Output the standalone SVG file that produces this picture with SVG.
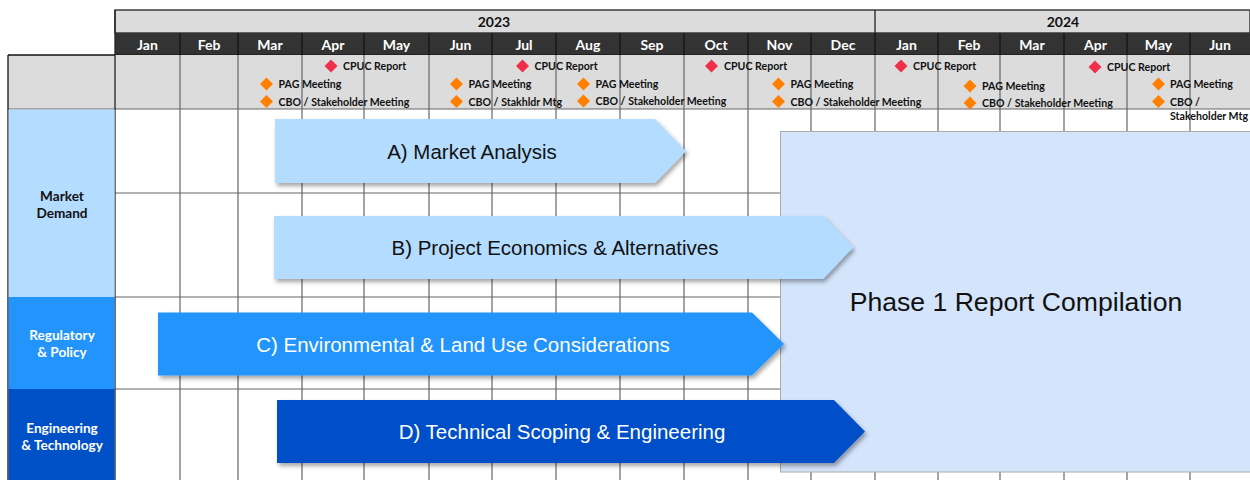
<svg xmlns="http://www.w3.org/2000/svg" width="1250" height="480" viewBox="0 0 1250 480">
<defs>
<style>
.hdr{font-family:Lato,"Liberation Sans",sans-serif;font-weight:700}
.mon{fill:#fff;font-size:14px;text-anchor:middle}
.yr{fill:#111;font-size:14px;text-anchor:middle}
.ms{fill:#111;font-size:10.6px}
.cat{font-family:Lato,"Liberation Sans",sans-serif;font-weight:700;font-size:13.6px;text-anchor:middle}
.bar{font-family:"Liberation Sans",Arial,sans-serif;font-size:20.5px;text-anchor:middle}
.grid line{stroke:#666;stroke-width:1.2}
.mgrid line{stroke:#111;stroke-width:1.2}
.red{fill:#f0304a}
.org{fill:#ff8000}
</style>
<filter id="sh" x="-5%" y="-20%" width="115%" height="150%">
<feDropShadow dx="2" dy="3" stdDeviation="2" flood-color="#000" flood-opacity="0.35"/>
</filter>
<path id="dm" d="M0,-6.5 L6.5,0 L0,6.5 L-6.5,0Z"/>
</defs>
<rect width="1250" height="480" fill="#fff"/>

<g id="header">
<rect x="115" y="10" width="1135" height="23" fill="#dcdcdc" stroke="#222" stroke-width="1.3"/>
<line x1="875" y1="10" x2="875" y2="33" stroke="#222" stroke-width="1.3"/>
<text class="hdr yr" x="494" y="27">2023</text>
<text class="hdr yr" x="1063" y="27">2024</text>
<rect x="115" y="33" width="1135" height="22" fill="#333"/>
<g class="mgrid">
<line x1="180" y1="33" x2="180" y2="55"/><line x1="238" y1="33" x2="238" y2="55"/><line x1="302" y1="33" x2="302" y2="55"/><line x1="364" y1="33" x2="364" y2="55"/><line x1="429" y1="33" x2="429" y2="55"/><line x1="492" y1="33" x2="492" y2="55"/><line x1="556" y1="33" x2="556" y2="55"/><line x1="620" y1="33" x2="620" y2="55"/><line x1="684" y1="33" x2="684" y2="55"/><line x1="748" y1="33" x2="748" y2="55"/><line x1="811" y1="33" x2="811" y2="55"/><line x1="875" y1="33" x2="875" y2="55"/><line x1="938" y1="33" x2="938" y2="55"/><line x1="1000" y1="33" x2="1000" y2="55"/><line x1="1064" y1="33" x2="1064" y2="55"/><line x1="1127" y1="33" x2="1127" y2="55"/><line x1="1190" y1="33" x2="1190" y2="55"/>
<line x1="115" y1="55" x2="1250" y2="55"/>
</g>
<g class="hdr mon">
<text x="147.5" y="49.5">Jan</text><text x="209" y="49.5">Feb</text><text x="270" y="49.5">Mar</text><text x="333" y="49.5">Apr</text><text x="396.5" y="49.5">May</text><text x="460.5" y="49.5">Jun</text><text x="524" y="49.5">Jul</text><text x="588" y="49.5">Aug</text><text x="652" y="49.5">Sep</text><text x="716" y="49.5">Oct</text><text x="779.5" y="49.5">Nov</text><text x="843" y="49.5">Dec</text><text x="906.5" y="49.5">Jan</text><text x="969" y="49.5">Feb</text><text x="1032" y="49.5">Mar</text><text x="1095.5" y="49.5">Apr</text><text x="1158.5" y="49.5">May</text><text x="1220" y="49.5">Jun</text>
</g>
</g>

<g id="grid">
<rect x="8" y="55" width="1242" height="54" fill="#dcdcdc"/>
<g class="grid">
<line x1="180" y1="55" x2="180" y2="480"/><line x1="238" y1="55" x2="238" y2="480"/><line x1="302" y1="55" x2="302" y2="480"/><line x1="364" y1="55" x2="364" y2="480"/><line x1="429" y1="55" x2="429" y2="480"/><line x1="492" y1="55" x2="492" y2="480"/><line x1="556" y1="55" x2="556" y2="480"/><line x1="620" y1="55" x2="620" y2="480"/><line x1="684" y1="55" x2="684" y2="480"/><line x1="748" y1="55" x2="748" y2="480"/><line x1="811" y1="55" x2="811" y2="480"/><line x1="875" y1="55" x2="875" y2="480"/><line x1="938" y1="55" x2="938" y2="480"/><line x1="1000" y1="55" x2="1000" y2="480"/><line x1="1064" y1="55" x2="1064" y2="480"/><line x1="1127" y1="55" x2="1127" y2="480"/><line x1="1190" y1="55" x2="1190" y2="480"/>
<line x1="8" y1="109" x2="1250" y2="109" stroke="#999"/>
<line x1="115" y1="193" x2="1250" y2="193"/>
<line x1="115" y1="297" x2="1250" y2="297"/>
<line x1="115" y1="389" x2="1250" y2="389"/>
</g>
<line x1="8" y1="55" x2="115" y2="55" stroke="#111" stroke-width="1.3"/>
<line x1="8" y1="55" x2="8" y2="480" stroke="#111" stroke-width="1.3"/>
<line x1="115" y1="10" x2="115" y2="480" stroke="#222" stroke-width="1.3"/>
</g>

<g id="cat-market">
<rect x="8.6" y="109.5" width="106" height="187.5" fill="#b4dcff"/>
<text class="cat" x="62" y="200.5" fill="#111">Market</text>
<text class="cat" x="62" y="218" fill="#111">Demand</text>
</g>
<g id="cat-regulatory">
<rect x="8.6" y="297" width="106" height="92" fill="#2394fc"/>
<text class="cat" x="62" y="339.5" fill="#fff">Regulatory</text>
<text class="cat" x="62" y="357" fill="#fff">&amp; Policy</text>
</g>
<g id="cat-engineering">
<rect x="8.6" y="389" width="106" height="91" fill="#0050c8"/>
<text class="cat" x="62" y="432.5" fill="#fff">Engineering</text>
<text class="cat" x="62" y="450" fill="#fff">&amp; Technology</text>
</g>

<g id="milestones" class="hdr ms">
<use href="#dm" class="red" x="331" y="66"/><text x="343" y="70">CPUC Report</text>
<use href="#dm" class="red" x="522.5" y="66"/><text x="534.5" y="70">CPUC Report</text>
<use href="#dm" class="red" x="711.5" y="66"/><text x="724" y="70">CPUC Report</text>
<use href="#dm" class="red" x="901" y="66"/><text x="913" y="70">CPUC Report</text>
<use href="#dm" class="red" x="1095" y="67"/><text x="1107" y="71">CPUC Report</text>

<use href="#dm" class="org" x="266.5" y="84"/><text x="278.5" y="88">PAG Meeting</text>
<use href="#dm" class="org" x="456.5" y="84"/><text x="468.5" y="88">PAG Meeting</text>
<use href="#dm" class="org" x="583.5" y="84"/><text x="595.5" y="88">PAG Meeting</text>
<use href="#dm" class="org" x="778.5" y="84"/><text x="790.5" y="88">PAG Meeting</text>
<use href="#dm" class="org" x="970" y="86"/><text x="982" y="90">PAG Meeting</text>
<use href="#dm" class="org" x="1158.5" y="84"/><text x="1170" y="88">PAG Meeting</text>

<use href="#dm" class="org" x="266.5" y="101.5"/><text x="278.5" y="105.5">CBO / Stakeholder Meeting</text>
<use href="#dm" class="org" x="456.5" y="101.5"/><text x="468.5" y="105.5">CBO / Stakhldr Mtg</text>
<use href="#dm" class="org" x="583.5" y="101"/><text x="595.5" y="105">CBO / Stakeholder Meeting</text>
<use href="#dm" class="org" x="778.5" y="101.5"/><text x="790.5" y="105.5">CBO / Stakeholder Meeting</text>
<use href="#dm" class="org" x="970" y="103"/><text x="982" y="107">CBO / Stakeholder Meeting</text>
<use href="#dm" class="org" x="1158.5" y="101.5"/><text x="1170" y="105.5">CBO /</text>
<text x="1170" y="120">Stakeholder Mtg</text>
</g>

<g id="phase1">
<rect x="780.5" y="131.5" width="470" height="340.5" fill="#d4e4fb" stroke="#aaa" stroke-width="1"/>
<text x="1016" y="311" font-family="'Liberation Sans',Arial,sans-serif" font-size="26.6" text-anchor="middle" fill="#111">Phase 1 Report Compilation</text>
</g>

<g id="bar-a">
<path d="M275,119 L655,119 L686,151 L655,183 L275,183Z" fill="#b4dcff" filter="url(#sh)"/>
<text class="bar" x="472" y="158.5" fill="#111">A) Market Analysis</text>
</g>
<g id="bar-b">
<path d="M274,216 L823,216 L853,247.5 L823,279 L274,279Z" fill="#b4dcff" filter="url(#sh)"/>
<text class="bar" x="555" y="254.5" fill="#111">B) Project Economics &amp; Alternatives</text>
</g>
<g id="bar-c">
<path d="M158,312.5 L752,312.5 L784,344 L752,375.5 L158,375.5Z" fill="#2394fc" filter="url(#sh)"/>
<text class="bar" x="463" y="351.5" fill="#fff">C) Environmental &amp; Land Use Considerations</text>
</g>
<g id="bar-d">
<path d="M277,400 L834,400 L865,431.5 L834,463 L277,463Z" fill="#0050c8" filter="url(#sh)"/>
<text class="bar" x="562" y="438.5" fill="#fff">D) Technical Scoping &amp; Engineering</text>
</g>
</svg>
